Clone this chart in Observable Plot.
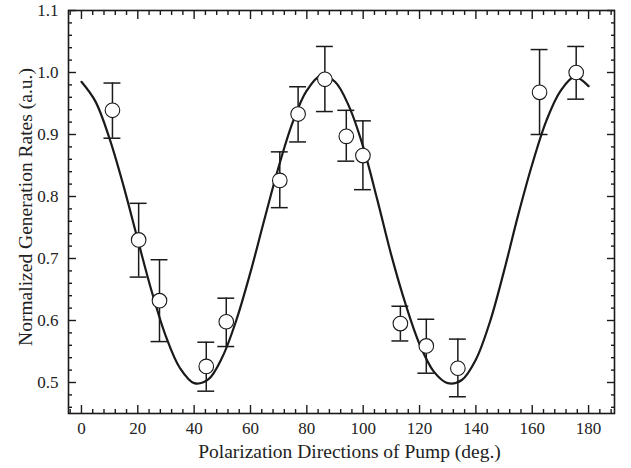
<!DOCTYPE html>
<html>
<head>
<meta charset="utf-8">
<script src="https://cdn.jsdelivr.net/npm/d3@7"></script>
<script src="https://cdn.jsdelivr.net/npm/@observablehq/plot@0.6"></script>
<style>
  html, body { margin: 0; padding: 0; background: #fff; }
  #chart svg { display: block; }
</style>
</head>
<body>
<div id="chart"></div>
<script>
// Measured generation rates versus pump polarization angle (degrees)
const angles   = [11, 20.3, 27.7, 44.3, 51.4, 70.4, 76.9, 86.4, 94, 99.9, 113.2, 122.4, 133.6, 162.6, 175.6];
const rates    = [0.939, 0.730, 0.632, 0.526, 0.598, 0.826, 0.933, 0.989, 0.897, 0.866, 0.595, 0.559, 0.523, 0.968, 1.000];
const rateLow  = [0.894, 0.670, 0.566, 0.486, 0.558, 0.782, 0.888, 0.937, 0.857, 0.811, 0.567, 0.515, 0.477, 0.900, 0.957];
const rateHigh = [0.983, 0.789, 0.698, 0.565, 0.636, 0.872, 0.977, 1.042, 0.939, 0.922, 0.623, 0.602, 0.570, 1.037, 1.042];

// Fitted curve, sampled every 5 degrees
const fitAngles = [0, 5, 10, 15, 20, 25, 30, 35, 40, 45, 50, 55, 60, 65, 70, 75, 80, 85, 90,
                   95, 100, 105, 110, 115, 120, 125, 130, 135, 140, 145, 150, 155, 160, 165, 170, 175, 180];
const fitRates  = [0.985, 0.953, 0.893, 0.816, 0.730, 0.646, 0.574, 0.523, 0.499, 0.505, 0.541, 0.601, 0.678,
                   0.764, 0.848, 0.920, 0.971, 0.995, 0.985, 0.945, 0.880, 0.795, 0.705, 0.627, 0.562, 0.518,
                   0.499, 0.504, 0.537, 0.598, 0.680, 0.770, 0.852, 0.922, 0.970, 0.993, 0.978];

// Axis ticks
const xMajor = [0, 20, 40, 60, 80, 100, 120, 140, 160, 180];
const xMinor = d3.range(-4, 189, 4).filter(v => v % 20 !== 0);
const yMajor = [0.5, 0.6, 0.7, 0.8, 0.9, 1.0, 1.1];
const yMinor = d3.range(46, 110, 2).filter(v => v % 10 !== 0).map(v => v / 100);

const xTitle = "Polarization Directions of Pump (deg.)";
const yTitle = "Normalized Generation Rates (a.u.)";

const points = angles.map((a, i) => ({angle: a, rate: rates[i], lo: rateLow[i], hi: rateHigh[i]}));
const fit = fitAngles.map((a, i) => ({angle: a, rate: fitRates[i]}));

const serif = "'Liberation Serif', 'Times New Roman', serif";
const ink = "#1a1a1a";
const capHalf = 3; // half-width of error-bar caps, in degrees

const tickStyle = {tickFormat: () => "", label: null, stroke: ink, strokeWidth: 1.4};

const chart = Plot.plot({
  width: 631,
  height: 468,
  marginLeft: 68,
  marginRight: 17,
  marginTop: 10,
  marginBottom: 55,
  style: `font-family: ${serif}; color: #222; background: #fff;`,
  x: {domain: [-4.6, 189.2], label: null},
  y: {domain: [0.45, 1.1], label: null},
  marks: [
    // inward-pointing major and minor ticks on all four sides
    Plot.axisX(xMajor, {anchor: "bottom", tickSize: 8, dy: -8, ...tickStyle}),
    Plot.axisX(xMinor, {anchor: "bottom", tickSize: 4, dy: -4, ...tickStyle}),
    Plot.axisX(xMajor, {anchor: "top", tickSize: 8, dy: 8, ...tickStyle}),
    Plot.axisX(xMinor, {anchor: "top", tickSize: 4, dy: 4, ...tickStyle}),
    Plot.axisY(yMajor, {anchor: "left", tickSize: 8, dx: 8, ...tickStyle}),
    Plot.axisY(yMinor, {anchor: "left", tickSize: 4, dx: 4, ...tickStyle}),
    Plot.axisY(yMajor, {anchor: "right", tickSize: 8, dx: -8, ...tickStyle}),
    Plot.axisY(yMinor, {anchor: "right", tickSize: 4, dx: -4, ...tickStyle}),
    // tick labels
    Plot.axisX(xMajor, {anchor: "bottom", tickSize: 0, tickPadding: 8, fontSize: 17, fontFamily: serif, label: null, tickFormat: d => String(d)}),
    Plot.axisY(yMajor, {anchor: "left", tickSize: 0, tickPadding: 10, fontSize: 17, fontFamily: serif, label: null, tickFormat: d3.format(".1f")}),
    // axis titles
    Plot.text([xTitle], {frameAnchor: "bottom", textAnchor: "middle", lineAnchor: "middle", dx: 8, dy: 38, fontSize: 19.5, fontFamily: serif, fill: "#222"}),
    Plot.text([yTitle], {frameAnchor: "left", textAnchor: "middle", lineAnchor: "middle", dx: -42.5, dy: -5, rotate: -90, fontSize: 19.5, fontFamily: serif, fill: "#222"}),
    // fitted curve
    Plot.line(fit, {x: "angle", y: "rate", curve: "catmull-rom", stroke: ink, strokeWidth: 2.2}),
    // error bars with caps
    Plot.ruleX(points, {x: "angle", y1: "lo", y2: "hi", stroke: ink, strokeWidth: 1.5}),
    Plot.ruleY(points, {y: "lo", x1: d => d.angle - capHalf, x2: d => d.angle + capHalf, stroke: ink, strokeWidth: 1.5}),
    Plot.ruleY(points, {y: "hi", x1: d => d.angle - capHalf, x2: d => d.angle + capHalf, stroke: ink, strokeWidth: 1.5}),
    // measured points
    Plot.dot(points, {x: "angle", y: "rate", r: 7.3, fill: "#fff", stroke: ink, strokeWidth: 1.1}),
    Plot.frame({stroke: ink, strokeWidth: 1.6})
  ]
});

document.getElementById("chart").appendChild(chart);
</script>
</body>
</html>
